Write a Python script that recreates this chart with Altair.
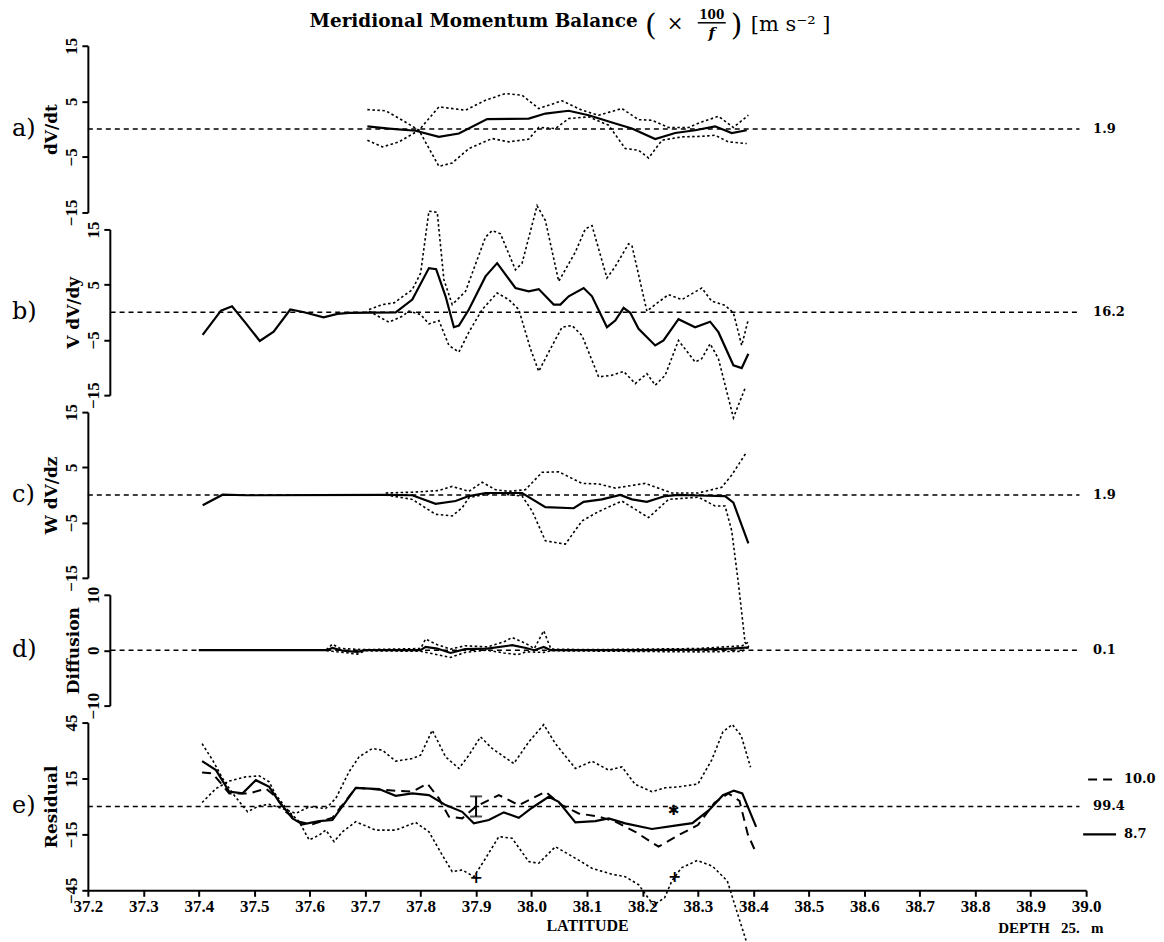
import altair as alt
import pandas as pd

# ------------------------------------------------------------------ data
X_TICKS = [37.2, 37.3, 37.4, 37.5, 37.6, 37.7, 37.8, 37.9, 38.0, 38.1,
           38.2, 38.3, 38.4, 38.5, 38.6, 38.7, 38.8, 38.9, 39.0]

TITLE_MAIN = "Meridional Momentum Balance"
X_TITLE = "LATITUDE"
DEPTH_TEXT = "DEPTH\u00a0\u00a0\u00a025.\u00a0\u00a0\u00a0m"

# panel a : dV/dt
A_SOLID_LAT = [37.704, 37.743, 37.791, 37.833, 37.869, 37.92, 37.995, 38.025, 38.067, 38.103,
               38.151, 38.181, 38.223, 38.259, 38.295, 38.331, 38.361, 38.388]
A_SOLID = [0.5, 0.1, -0.3, -1.4, -0.8, 1.8, 1.9, 2.8, 3.3, 2.5, 1.0, 0.1, -1.8, -0.7, -0.2, 0.5, -0.7, -0.2]
A_UP_LAT = [37.704, 37.737, 37.767, 37.797, 37.833, 37.881, 37.917, 37.953, 37.983, 38.013, 38.055,
            38.091, 38.121, 38.163, 38.193, 38.217, 38.247, 38.283, 38.307, 38.337, 38.364, 38.391]
A_UP = [3.5, 3.3, 1.6, -0.2, 4.0, 3.4, 5.2, 6.4, 6.1, 3.7, 5.1, 3.4, 2.5, 3.7, 1.7, 1.6, 0.3, 0.3, 1.3, 2.3, 0.3, 2.5]
A_LO_LAT = [37.704, 37.731, 37.761, 37.797, 37.833, 37.857, 37.887, 37.929, 37.959, 37.995, 38.013, 38.043,
            38.067, 38.103, 38.139, 38.169, 38.193, 38.211, 38.235, 38.271, 38.307, 38.331, 38.355, 38.388]
A_LO = [-2.0, -3.2, -2.3, -0.2, -6.7, -6.1, -3.5, -1.7, -2.3, -1.8, 0.3, 0.1, 1.9, 2.2, 0.7, -3.5, -3.8, -5.2,
        -2.0, -1.4, -1.3, -1.1, -2.3, -2.6]

# panel b : V dV/dy
B_SOLID_LAT = [37.407, 37.44, 37.46, 37.485, 37.51, 37.535, 37.565, 37.59, 37.625, 37.65,
               37.671, 37.755, 37.785, 37.815, 37.828, 37.845, 37.860, 37.869, 37.887, 37.917, 37.938,
               37.971, 37.995, 38.013, 38.040, 38.052, 38.067, 38.094, 38.109, 38.136, 38.151, 38.166,
               38.178, 38.193, 38.223, 38.238, 38.265, 38.295, 38.322, 38.337, 38.364, 38.379, 38.391]
B_SOLID = [-4.1, 0.3, 1.1, -2.0, -5.2, -3.5, 0.5, 0.0, -0.9, -0.3,
           -0.1, 0.0, 2.3, 8.0, 7.8, 2.9, -2.7, -2.4, 0.5, 6.5, 8.9, 4.4, 3.8, 4.2, 1.4, 1.4, 2.9, 4.4,
           2.9, -2.7, -1.5, 0.8, -0.1, -3.0, -6.0, -5.1, -1.25, -2.7, -1.7, -3.6, -9.6, -10.1, -7.5]
B_UP_LAT = [37.707, 37.731, 37.752, 37.785, 37.800, 37.815, 37.830, 37.842, 37.857, 37.881, 37.917, 37.929,
            37.944, 37.971, 37.983, 38.010, 38.025, 38.049, 38.079, 38.097, 38.109, 38.136, 38.151, 38.175,
            38.181, 38.208, 38.223, 38.247, 38.271, 38.307, 38.325, 38.349, 38.364, 38.379, 38.391]
B_UP = [0.5, 1.4, 1.7, 4.1, 7.1, 18.3, 18.1, 5.9, 1.4, 3.8, 13.6, 14.8, 14.2, 7.7, 8.9, 19.3, 16.6, 5.6,
        10.9, 15.1, 15.7, 6.2, 8.3, 12.4, 12.1, 0.2, 1.4, 3.2, 2.3, 4.4, 2.0, 1.25, -0.1, -6.0, -1.25]
B_LO_LAT = [37.707, 37.743, 37.767, 37.779, 37.800, 37.815, 37.833, 37.851, 37.869, 37.887, 37.911, 37.938,
            37.959, 37.977, 37.998, 38.013, 38.031, 38.055, 38.073, 38.091, 38.121, 38.145, 38.166, 38.187,
            38.208, 38.223, 38.241, 38.265, 38.295, 38.307, 38.322, 38.337, 38.364, 38.385]
B_LO = [0.2, -1.8, -0.7, 0.2, -0.4, -2.1, -1.5, -6.0, -7.2, -3.6, 0.5, 3.5, 2.3, 0.5, -6.6, -10.7, -7.2,
        -2.7, -2.4, -4.2, -11.7, -11.4, -10.7, -12.9, -11.1, -13.2, -11.4, -5.1, -9.0, -8.4, -5.7, -8.4,
        -19.1, -13.75]

# panel c : W dV/dz
C_SOLID_LAT = [37.407, 37.443, 37.485, 37.737, 37.785, 37.827, 37.863, 37.887, 37.917, 37.983, 38.025,
               38.076, 38.094, 38.127, 38.16, 38.181, 38.208, 38.241, 38.265, 38.30, 38.349, 38.364, 38.391]
C_SOLID = [-1.85, 0.05, -0.05, 0.0, -0.05, -1.6, -1.1, -0.2, 0.36, 0.36, -2.2, -2.4, -1.25, -0.8, 0.0,
           -0.8, -1.25, -0.2, 0.0, -0.1, -0.2, -1.4, -8.75]
C_UP_LAT = [37.737, 37.785, 37.833, 37.857, 37.887, 37.911, 37.935, 37.959, 37.989, 38.019, 38.049, 38.091,
            38.121, 38.151, 38.205, 38.253, 38.301, 38.343, 38.361, 38.388]
C_UP = [0.36, 0.5, 0.8, 1.55, 0.65, 2.3, 0.95, 0.65, 0.95, 4.1, 4.2, 2.1, 2.0, 1.25, 2.1, 0.36, 0.36,
        1.4, 3.6, 7.8]
C_LO_LAT = [37.737, 37.785, 37.827, 37.857, 37.875, 37.887, 37.911, 37.935, 37.965, 37.983, 38.001, 38.025,
            38.061, 38.091, 38.121, 38.163, 38.211, 38.247, 38.301, 38.331, 38.349, 38.361, 38.373, 38.385,
            38.392]
C_LO = [0.0, -0.8, -3.5, -3.8, -2.3, -0.5, 0.0, 0.36, 0.0, -0.2, -2.9, -8.3, -8.9, -4.7, -3.0, -1.1, -4.1,
        -0.8, -0.4, -2.0, -2.0, -6.5, -16.0, -26.7, -27.5]

# panel d : Diffusion
D_SOLID_LAT = [37.40, 37.63, 37.641, 37.66, 37.686, 37.70, 37.80, 37.809, 37.83, 37.854, 37.88, 37.92,
               37.965, 37.99, 38.005, 38.022, 38.035, 38.20, 38.30, 38.36, 38.392]
D_SOLID = [0.0, 0.0, 0.4, -0.1, -0.3, 0.0, 0.0, 0.6, 0.3, -0.5, 0.2, 0.3, 0.9, 0.4, 0.0, 0.6, 0.0, 0.0,
           0.1, 0.3, 0.5]
D_UP_LAT = [37.63, 37.641, 37.655, 37.70, 37.80, 37.809, 37.83, 37.854, 37.88, 37.92, 37.95, 37.965,
            37.99, 38.005, 38.022, 38.035, 38.10, 38.30, 38.38, 38.392]
D_UP = [0.1, 1.1, 0.3, 0.1, 0.3, 2.0, 1.0, 0.2, 0.8, 0.6, 1.5, 2.3, 1.2, 0.3, 3.5, 0.2, 0.1, 0.3, 0.8, 1.5]
D_LO_LAT = [37.63, 37.641, 37.66, 37.686, 37.70, 37.80, 37.82, 37.854, 37.88, 37.92, 37.95, 37.975,
            37.99, 38.022, 38.035, 38.30, 38.38, 38.392]
D_LO = [-0.1, -0.2, -0.4, -0.7, -0.1, -0.2, -0.6, -1.3, -0.4, 0.0, -0.5, -0.8, -0.3, -0.4, -0.1, -0.3,
        -0.2, 0.6]

# panel e : Residual
E_SOLID_LAT = [37.406, 37.431, 37.455, 37.479, 37.503, 37.527, 37.545, 37.569, 37.587, 37.617, 37.641,
               37.683, 37.725, 37.755, 37.785, 37.815, 37.845, 37.875, 37.896, 37.923, 37.95, 37.977,
               38.001, 38.031, 38.049, 38.079, 38.115, 38.139, 38.169, 38.217, 38.265, 38.29, 38.32,
               38.345, 38.365, 38.38, 38.405]
E_SOLID = [24.3, 19.5, 7.9, 7.0, 14.1, 10.5, 2.5, -6.4, -9.6, -7.9, -7.3, 10.0, 9.3, 5.7, 7.0, 6.1, 0.7,
           -2.9, -9.1, -7.3, -3.2, -6.1, -0.7, 5.2, 2.5, -8.6, -7.9, -6.4, -9.1, -12.1, -10.0, -9.0, -2.0,
           6.0, 8.5, 7.0, -11.0]
E_DASH_LAT = [37.406, 37.425, 37.455, 37.491, 37.521, 37.539, 37.557, 37.581, 37.605, 37.641, 37.683,
              37.737, 37.785, 37.812, 37.833, 37.851, 37.875, 37.899, 37.941, 37.977, 38.001, 38.025,
              38.055, 38.085, 38.121, 38.151, 38.187, 38.229, 38.265, 38.30, 38.33, 38.355, 38.375,
              38.39, 38.405]
E_DASH = [18.2, 17.7, 7.0, 7.0, 9.6, 5.2, -2.9, -8.2, -9.6, -6.1, 10.0, 8.8, 7.9, 12.3, 4.3, -5.5, -6.4,
          -0.2, 6.1, 0.7, 4.3, 7.9, 0.7, -3.75, -5.5, -8.2, -13.6, -21.6, -15.4, -10.0, 2.0, 7.0, 3.0,
          -15.0, -25.0]
E_UP_LAT = [37.406, 37.425, 37.443, 37.461, 37.488, 37.509, 37.527, 37.551, 37.575, 37.599, 37.629,
            37.647, 37.671, 37.689, 37.713, 37.731, 37.755, 37.785, 37.800, 37.821, 37.845, 37.869,
            37.887, 37.908, 37.929, 37.968, 37.995, 38.022, 38.043, 38.079, 38.109, 38.139, 38.163,
            38.187, 38.217, 38.241, 38.265, 38.30, 38.325, 38.345, 38.362, 38.378, 38.395]
E_UP = [33.7, 24.8, 15.0, 7.0, -2.9, 0.4, 1.1, -1.1, -3.75, -0.2, -1.1, 4.3, 18.6, 26.6, 31.1, 30.2,
        24.3, 25.7, 27.5, 40.9, 26.6, 20.4, 27.5, 37.3, 31.1, 23.0, 34.6, 43.9, 33.7, 20.4, 24.3, 19.5,
        21.2, 11.8, 7.9, 10.0, 10.5, 12.0, 25.0, 40.0, 44.0, 38.0, 21.0]
E_LO_LAT = [37.406, 37.431, 37.455, 37.485, 37.509, 37.527, 37.539, 37.563, 37.581, 37.599, 37.617,
            37.629, 37.644, 37.659, 37.683, 37.719, 37.755, 37.791, 37.815, 37.839, 37.857, 37.875,
            37.896, 37.917, 37.941, 37.965, 37.995, 38.013, 38.043, 38.085, 38.109, 38.145, 38.169,
            38.193, 38.22, 38.24, 38.253, 38.27, 38.299, 38.326, 38.353, 38.372, 38.39]
E_LO = [2.1, 9.6, 13.6, 15.9, 16.4, 13.2, 6.1, -2.9, -8.2, -18.0, -15.4, -12.7, -18.9, -13.6, -8.2,
        -12.7, -12.7, -8.6, -13.6, -26.1, -35.0, -34.1, -37.7, -27.9, -16.2, -17.1, -29.6, -30.5, -21.6,
        -28.8, -33.2, -36.4, -37.7, -42.0, -53.0, -49.0, -40.0, -33.0, -29.0, -32.0, -40.0, -58.0, -75.0]

# markers in panel e
ERR_LAT = [37.9]
ERR_LO = [-5.4]
ERR_HI = [5.4]
STAR_LAT = [38.256]
STAR_VAL = [-2.5]
PLUS_LAT = [37.9, 38.258]
PLUS_VAL = [-38.6, -37.8]

# numbers written at the right of each panel
RIGHT_A, RIGHT_B, RIGHT_C, RIGHT_D = "1.9", "16.2", "1.9", "0.1"
E_LEG_TEXT = ["10.0", "99.4", "8.7"]
E_LEG_VAL = [14.5, 0.0, -15.0]

# ------------------------------------------------------------------ styling
TICKF = "Liberation Serif"
TEXTF = "DejaVu Serif"
W = 1000
XSCALE = alt.Scale(domain=[37.2, 39.0], nice=False, zero=False)

SOLID = dict(color="black", strokeWidth=2.2)
DOT = dict(color="black", strokeWidth=1.6, strokeDash=[2.5, 2.5])
LDASH = dict(color="black", strokeWidth=2.0, strokeDash=[9, 6])


def df(lat, val):
    return pd.DataFrame({"lat": lat, "val": val})


def make_panel(h, ydom, yticks, ytitle, letter, offset, series, right_txt, xaxis=None, zero_start=37.2):
    yaxis = alt.Axis(values=yticks, title=ytitle, offset=offset, labelAngle=270,
                     labelAlign="center", labelBaseline="bottom", labelFont=TICKF,
                     labelFontWeight="bold", labelFontSize=17, labelColor="black", labelPadding=1,
                     titleFont=TEXTF, titleFontWeight="bold", titleFontSize=17, titleColor="black",
                     titlePadding=2, domainColor="black", domainWidth=2, tickColor="black",
                     tickWidth=2, tickSize=6, grid=False)
    yenc = alt.Y("val:Q", scale=alt.Scale(domain=ydom, nice=False, zero=False), axis=yaxis)
    xenc = alt.X("lat:Q", scale=XSCALE, axis=xaxis)

    layers = []
    zero = pd.DataFrame({"lat": [zero_start], "lat2": [38.988], "val": [0.0]})
    layers.append(alt.Chart(zero).mark_rule(color="black", strokeWidth=1.5, strokeDash=[5, 4])
                  .encode(x=xenc, x2="lat2:Q", y=yenc))
    for (lat, val, style) in series:
        layers.append(alt.Chart(df(lat, val)).mark_line(**style).encode(x=xenc, y=yenc))
    if right_txt is not None:
        layers.append(alt.Chart(pd.DataFrame({"val": [0.0], "t": [right_txt]}))
                      .mark_text(align="left", baseline="middle", font=TEXTF, fontWeight="bold",
                                 fontSize=13, color="black")
                      .encode(x=alt.value(1007), y=yenc, text="t:N"))
    layers.append(alt.Chart(pd.DataFrame({"t": [letter]}))
                  .mark_text(align="left", baseline="middle", font=TEXTF, fontSize=24, color="black")
                  .encode(x=alt.value(-76), y=alt.value(h / 2), text="t:N"))
    return layers, xenc, yenc


# panel a (with title)
la, xa, ya = make_panel(167, [-15, 15], [15, 5, -5, -15], "dV/dt", "a)", 0,
                        [(A_UP_LAT, A_UP, DOT), (A_LO_LAT, A_LO, DOT), (A_SOLID_LAT, A_SOLID, SOLID)],
                        RIGHT_A)
one = pd.DataFrame({"k": [0]})
la.append(alt.Chart(one).mark_text(text=TITLE_MAIN, align="left", baseline="middle", font=TEXTF,
                                   fontWeight="bold", fontSize=18.5, color="black")
          .encode(x=alt.value(222), y=alt.value(-25)))
la.append(alt.Chart(one).mark_text(text="(", align="left", baseline="middle", font=TEXTF,
                                   fontSize=30, color="black")
          .encode(x=alt.value(558), y=alt.value(-20)))
la.append(alt.Chart(one).mark_text(text="×", align="left", baseline="middle", font=TEXTF,
                                   fontSize=20, color="black")
          .encode(x=alt.value(580), y=alt.value(-22)))
la.append(alt.Chart(one).mark_text(text="100", align="center", baseline="middle", font=TEXTF,
                                   fontWeight="bold", fontSize=12, color="black")
          .encode(x=alt.value(625), y=alt.value(-31)))
la.append(alt.Chart(one).mark_rule(color="black", strokeWidth=1.5)
          .encode(x=alt.value(611), x2=alt.value(639), y=alt.value(-23)))
la.append(alt.Chart(one).mark_text(text="f", align="center", baseline="middle", font=TEXTF,
                                   fontStyle="italic", fontWeight="bold", fontSize=15, color="black")
          .encode(x=alt.value(625), y=alt.value(-13)))
la.append(alt.Chart(one).mark_text(text=")", align="left", baseline="middle", font=TEXTF,
                                   fontSize=30, color="black")
          .encode(x=alt.value(644), y=alt.value(-20)))
la.append(alt.Chart(one).mark_text(text="[m s⁻² ]", align="left", baseline="middle", font=TEXTF,
                                   fontSize=21, color="black")
          .encode(x=alt.value(664), y=alt.value(-21)))
pa = alt.layer(*la).properties(width=W, height=167)

lb, _, _ = make_panel(166, [-15, 15], [15, 5, -5, -15], "V  dV/dy", "b)", -22,
                      [(B_UP_LAT, B_UP, DOT), (B_LO_LAT, B_LO, DOT), (B_SOLID_LAT, B_SOLID, SOLID)],
                      RIGHT_B, zero_start=37.241)
pb = alt.layer(*lb).properties(width=W, height=166)

lc, _, _ = make_panel(166, [-15, 15], [15, 5, -5, -15], "W  dV/dz", "c)", 0,
                      [(C_UP_LAT, C_UP, DOT), (C_LO_LAT, C_LO, DOT), (C_SOLID_LAT, C_SOLID, SOLID)],
                      RIGHT_C)
pc = alt.layer(*lc).properties(width=W, height=166)

ld, _, _ = make_panel(111, [-10, 10], [10, 0, -10], "Diffusion", "d)", -22,
                      [(D_UP_LAT, D_UP, DOT), (D_LO_LAT, D_LO, DOT), (D_SOLID_LAT, D_SOLID, SOLID)],
                      RIGHT_D, zero_start=37.241)
pd_ = alt.layer(*ld).properties(width=W, height=111)

xaxis_e = alt.Axis(values=X_TICKS, format=".1f", title=X_TITLE, labelFont=TICKF, labelFontWeight="bold",
                   labelFontSize=17, labelColor="black", labelPadding=2, labelFlush=False,
                   titleFont=TICKF, titleFontWeight="bold", titleFontSize=16, titleColor="black",
                   titlePadding=3, domainColor="black", domainWidth=2, tickColor="black", tickWidth=2,
                   tickSize=6, grid=False)
le, xe, ye = make_panel(168, [-45, 45], [45, 15, -15, -45], "Residual", "e)", 0,
                        [(E_UP_LAT, E_UP, DOT), (E_LO_LAT, E_LO, DOT), (E_DASH_LAT, E_DASH, LDASH),
                         (E_SOLID_LAT, E_SOLID, SOLID)],
                        None, xaxis=xaxis_e)
err = pd.DataFrame({"lat": ERR_LAT, "lo": ERR_LO, "hi": ERR_HI})
le.append(alt.Chart(err).mark_rule(color="black", strokeWidth=2)
          .encode(x=xe, y=alt.Y("lo:Q", scale=alt.Scale(domain=[-45, 45], nice=False, zero=False)),
                  y2="hi:Q"))
le.append(alt.Chart(err).mark_tick(color="black", orient="horizontal", size=12, thickness=2)
          .encode(x=xe, y=alt.Y("lo:Q", scale=alt.Scale(domain=[-45, 45], nice=False, zero=False))))
le.append(alt.Chart(err).mark_tick(color="black", orient="horizontal", size=12, thickness=2)
          .encode(x=xe, y=alt.Y("hi:Q", scale=alt.Scale(domain=[-45, 45], nice=False, zero=False))))
le.append(alt.Chart(df(STAR_LAT, STAR_VAL)).mark_text(text="✱", font="DejaVu Sans", fontSize=14,
                                                      baseline="middle", color="black")
          .encode(x=xe, y=ye))
le.append(alt.Chart(df(PLUS_LAT, PLUS_VAL)).mark_text(text="+", font="DejaVu Sans", fontWeight="bold",
                                                      fontSize=16, baseline="middle", color="black")
          .encode(x=xe, y=ye))
leg = pd.DataFrame({"val": E_LEG_VAL, "t": E_LEG_TEXT})
le.append(alt.Chart(leg.iloc[[0]]).mark_rule(**LDASH).encode(x=alt.value(1002), x2=alt.value(1030), y=ye))
le.append(alt.Chart(leg.iloc[[2]]).mark_rule(**SOLID).encode(x=alt.value(997), x2=alt.value(1030), y=ye))
le.append(alt.Chart(leg.iloc[[0, 2]]).mark_text(align="left", baseline="middle", font=TEXTF,
                                                fontWeight="bold", fontSize=13, color="black")
          .encode(x=alt.value(1038), y=ye, text="t:N"))
le.append(alt.Chart(leg.iloc[[1]]).mark_text(align="left", baseline="middle", font=TEXTF,
                                             fontWeight="bold", fontSize=13, color="black")
          .encode(x=alt.value(1007), y=ye, text="t:N"))
le.append(alt.Chart(one).mark_text(text=DEPTH_TEXT, align="left", baseline="middle", font=TICKF,
                                   fontWeight="bold", fontSize=15, color="black")
          .encode(x=alt.value(912), y=alt.value(206)))
pe = alt.layer(*le).properties(width=W, height=168)

chart = (alt.vconcat(pa, pb, pc, pd_, pe, spacing=17, bounds="flush")
         .properties(padding={"left": 4, "top": 0, "right": 0, "bottom": 0}, background="white")
         .configure_view(stroke=None)
         .configure_axis(grid=False))

chart.save("out.html", embed_options={"renderer": "svg", "actions": False})
